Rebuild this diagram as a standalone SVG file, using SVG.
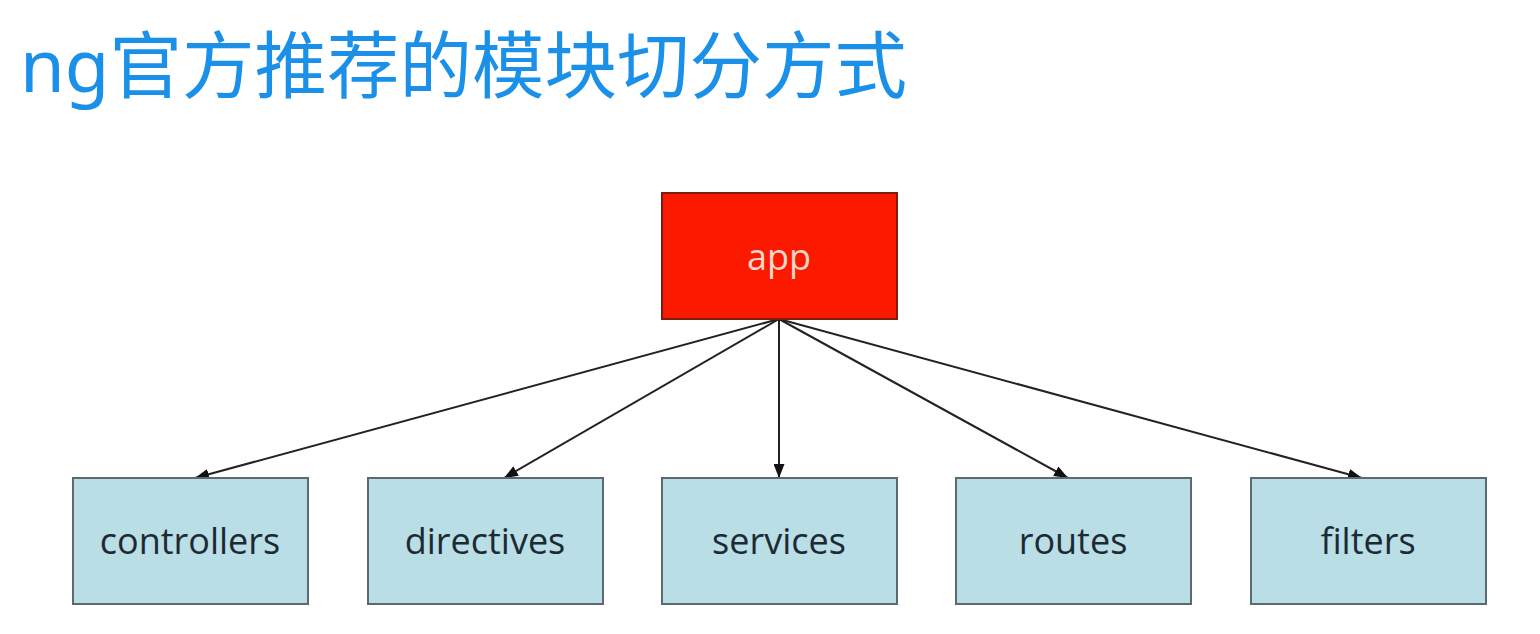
<svg xmlns="http://www.w3.org/2000/svg" width="1540" height="634" viewBox="0 0 1540 634">
<style>
.title{font-family:"Noto Sans","Noto Sans CJK SC",sans-serif;font-size:72.5px;fill:#1b90e8}
.box{fill:#b9dee6;stroke:#5b6a70;stroke-width:2}
.lbl{font-family:"Open Sans","Noto Sans",sans-serif;font-size:36px;fill:#1c2a33;text-anchor:middle}
.app{fill:#fb1a00;stroke:#7a1c10;stroke-width:2}
.applbl{font-family:"Open Sans","Noto Sans",sans-serif;font-size:36px;fill:#f7d6cc;text-anchor:middle}
.edge{stroke:#222;stroke-width:2;fill:none;marker-end:url(#ah)}
</style>
<defs>
<marker id="ah" viewBox="0 0 14 11" refX="14" refY="5.5" markerWidth="14" markerHeight="11" markerUnits="userSpaceOnUse" orient="auto">
<path d="M0,0 L14,5.5 L0,11 z" fill="#111"/>
</marker>
</defs>
<rect width="1540" height="634" fill="#ffffff"/>
<text class="title" x="20" y="92">ng官方推荐的模块切分方式</text>
<g id="connectors">
<line class="edge" x1="779" y1="319" x2="195" y2="478"/>
<line class="edge" x1="779" y1="319" x2="504" y2="478"/>
<line class="edge" x1="779" y1="319" x2="779" y2="478"/>
<line class="edge" x1="779" y1="319" x2="1068" y2="478"/>
<line class="edge" x1="779" y1="319" x2="1362" y2="478"/>
</g>
<g id="app">
<rect class="app" x="662" y="193" width="235" height="126"/>
<text class="applbl" x="779" y="270">app</text>
</g>
<g id="controllers">
<rect class="box" x="73" y="478" width="235" height="126"/>
<text class="lbl" x="190" y="554">controllers</text>
</g>
<g id="directives">
<rect class="box" x="368" y="478" width="235" height="126"/>
<text class="lbl" x="485" y="554">directives</text>
</g>
<g id="services">
<rect class="box" x="662" y="478" width="235" height="126"/>
<text class="lbl" x="779" y="554">services</text>
</g>
<g id="routes">
<rect class="box" x="956" y="478" width="235" height="126"/>
<text class="lbl" x="1073" y="554">routes</text>
</g>
<g id="filters">
<rect class="box" x="1251" y="478" width="235" height="126"/>
<text class="lbl" x="1368" y="554">filters</text>
</g>
</svg>
